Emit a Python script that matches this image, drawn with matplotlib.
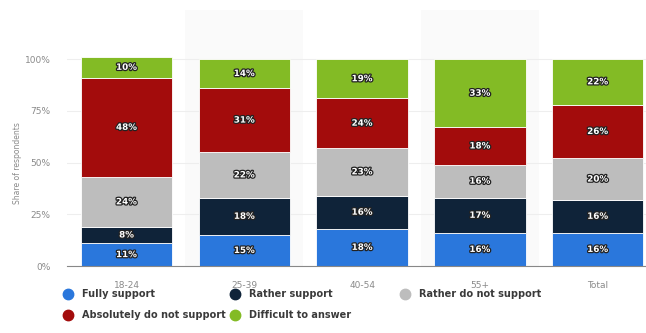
import numpy as np
import matplotlib.pyplot as plt
import matplotlib.patheffects as pe
from matplotlib.lines import Line2D

groups = ["18-24", "25-39", "40-54", "55+", "Total"]
series = ["Fully support", "Rather support", "Rather do not support",
          "Absolutely do not support", "Difficult to answer"]
fully = [11, 15, 18, 16, 16]
rather = [8, 18, 16, 17, 16]
rather_not = [24, 22, 23, 16, 20]
absolutely_not = [48, 31, 24, 18, 26]
difficult = [10, 14, 19, 33, 22]
y_ticks = [0, 25, 50, 75, 100]

palette = ["#2a77dc", "#0f2339", "#bdbdbd", "#a30c0c", "#83bb25"]

W, H = 646, 333
fig = plt.figure(figsize=(W / 100, H / 100), dpi=100)
ax = fig.add_axes([67 / W, 67 / H, 579 / W, 256 / H])

x = np.arange(len(groups))
ax.set_xlim(-0.505, 4.41)
ax.set_ylim(0, 123.7)

# shaded column bands behind every second group
for i in (1, 3):
    ax.axvspan(i - 0.5, i + 0.5, color="#fafafa", zorder=0, lw=0)

for t in y_ticks:
    ax.axhline(t, color="#eeeeee", lw=0.8, zorder=1)

bottom = np.zeros(len(groups))
for vals, col in zip([fully, rather, rather_not, absolutely_not, difficult], palette):
    vals = np.array(vals, dtype=float)
    ax.bar(x, vals, width=0.775, bottom=bottom, color=col, zorder=2,
           edgecolor="white", linewidth=0.6)
    for xi, b, v in zip(x, bottom, vals):
        ax.text(xi, b + v / 2, f"{int(v)}%", ha="center", va="center",
                fontsize=6.3, fontweight="bold", color="white", zorder=3,
                path_effects=[pe.withStroke(linewidth=1.8, foreground="#222222")])
    bottom += vals

ax.set_yticks(y_ticks)
ax.set_yticklabels([f"{t}%" for t in y_ticks])
ax.set_xticks(x)
ax.set_xticklabels(groups)
ax.tick_params(axis="both", length=0, labelsize=6.5, colors="#8a8a8a")
ax.tick_params(axis="x", pad=11)
ax.tick_params(axis="y", pad=12)
for s in ["top", "right", "left"]:
    ax.spines[s].set_visible(False)
ax.spines["bottom"].set_color("#888888")
ax.spines["bottom"].set_linewidth(0.8)
ax.spines["bottom"].set_zorder(4)

fig.text(18 / W, 1 - 163 / H, "Share of respondents", rotation=90,
         ha="center", va="center", fontsize=5.5, color="#8a8a8a")

# legend laid out in two rows, three columns
slots = [(68, 294), (235, 294), (405, 294), (68, 315), (235, 315)]
for (px, py), name, col in zip(slots, series, palette):
    fig.add_artist(Line2D([px / W], [1 - py / H], marker="o", ls="",
                          markersize=7.5, markerfacecolor=col,
                          markeredgecolor=col, transform=fig.transFigure))
    fig.text((px + 14) / W, 1 - py / H, name, ha="left", va="center",
             fontsize=7, fontweight="bold", color="#3a3a3a")

fig.savefig("out.png", dpi=100)
